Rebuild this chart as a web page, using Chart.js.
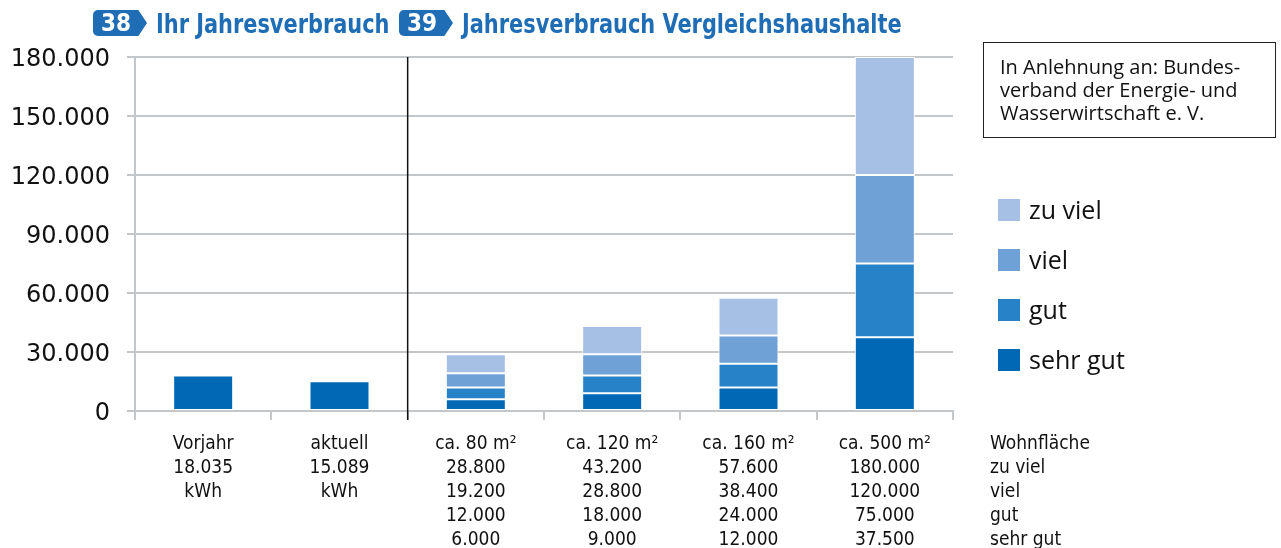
<!DOCTYPE html>
<html lang="de">
<head>
<meta charset="utf-8">
<title>Jahresverbrauch</title>
<script src="https://cdn.jsdelivr.net/npm/chart.js@4.4.1/dist/chart.umd.min.js"></script>
<style>
  html, body { margin: 0; padding: 0; background: #fff; }
  #wrap { position: relative; width: 1281px; height: 548px; overflow: hidden; }
  #chart { position: absolute; left: 0; top: 0; }
  .head { position: absolute; top: 6px; height: 34px; display: flex; align-items: center;
          font-family: "DejaVu Sans Condensed", "DejaVu Sans", sans-serif;
          font-weight: bold; font-size: 27px; color: #1f6db5; white-space: nowrap; }
  .head .txt { display: inline-block; transform: scaleX(0.86); transform-origin: left center; }
  .badge { display: inline-block; width: 54px; height: 26px; margin-right: 9px; background: #1f6db5;
           color: #fff; font-size: 24px; line-height: 27px; padding-left: 8px; box-sizing: border-box;
           border-radius: 5px 0 0 5px;
           clip-path: polygon(0 0, 84% 0, 100% 50%, 84% 100%, 0 100%); }
  #source { position: absolute; left: 983px; top: 42px; width: 293px; height: 96px; box-sizing: border-box;
            border: 1.5px solid #222; padding: 12px 0 0 16px;
            font-family: "Open Sans", sans-serif; font-size: 20px; line-height: 23px; color: #111;
            white-space: nowrap; }
  #legend { position: absolute; left: 998px; top: 196px; font-family: "Open Sans", sans-serif;
            font-size: 25px; color: #111; }
  #legend div { height: 50px; display: flex; align-items: flex-start; }
  #legend span.box { width: 22px; height: 22px; margin: 3px 9px 0 0; display: inline-block; }
  #legend span.txt { line-height: 26px; }
</style>
</head>
<body>
<div id="wrap">
  <canvas id="chart" width="1281" height="548"></canvas>
  <div class="head" style="left:93px"><span class="badge">38</span><span class="txt">Ihr Jahresverbrauch</span></div>
  <div class="head" style="left:399px"><span class="badge">39</span><span class="txt">Jahresverbrauch Vergleichshaushalte</span></div>
  <div id="source">In Anlehnung an: Bundes-<br>verband der Energie- und<br>Wasserwirtschaft e. V.</div>
  <div id="legend"></div>
</div>
<script>
// categories and the label lines printed under each bar
const categories = ['Vorjahr', 'aktuell', 'ca. 80 m²', 'ca. 120 m²', 'ca. 160 m²', 'ca. 500 m²'];
const ownUsage = [18035, 15089, null, null, null, null];

// upper limits per class (kWh) for the comparison households
const limitZuViel = [null, null, 28800, 43200, 57600, 180000];
const limitViel = [null, null, 19200, 28800, 38400, 120000];
const limitGut = [null, null, 12000, 18000, 24000, 75000];
const limitSehrGut = [null, null, 6000, 9000, 12000, 37500];

const rowNames = ['Wohnfläche', 'zu viel', 'viel', 'gut', 'sehr gut'];
const yTicks = [0, 30000, 60000, 90000, 120000, 150000, 180000];

const colors = {
  sehrGut: '#0068b4',
  gut: '#2882c8',
  viel: '#6fa0d6',
  zuViel: '#a6bfe4'
};

const fmt = v => v.toLocaleString('de-DE');

function labelLines(i) {
  if (ownUsage[i] != null) return [categories[i], fmt(ownUsage[i]), 'kWh'];
  return [categories[i], fmt(limitZuViel[i]), fmt(limitViel[i]), fmt(limitGut[i]), fmt(limitSehrGut[i])];
}

// floating segments between two limits
function span(lo, hi) {
  return hi.map((h, i) => h == null ? null : [lo ? lo[i] : 0, h]);
}

const legendItems = [
  ['zu viel', colors.zuViel],
  ['viel', colors.viel],
  ['gut', colors.gut],
  ['sehr gut', colors.sehrGut]
];
document.getElementById('legend').innerHTML = legendItems
  .map(([t, c]) => `<div><span class="box" style="background:${c}"></span><span class="txt">${t}</span></div>`)
  .join('');

const TICK_FONT = { family: '"DejaVu Sans Condensed", "DejaVu Sans", sans-serif', size: 19, lineHeight: 1.26 };
const X_TICK_LEN = 9;
const X_TICK_PAD = 12;

// black divider between own usage and comparison households, plus the row captions
const extras = {
  id: 'extras',
  afterDraw(chart) {
    const { ctx, chartArea, scales } = chart;
    const x = scales.x;
    const xs = (x.getPixelForValue(1) + x.getPixelForValue(2)) / 2;
    ctx.save();
    ctx.strokeStyle = '#111';
    ctx.lineWidth = 1.5;
    ctx.beginPath();
    ctx.moveTo(xs, chartArea.top);
    ctx.lineTo(xs, chartArea.bottom + X_TICK_LEN);
    ctx.stroke();

    ctx.fillStyle = '#111';
    ctx.font = `${TICK_FONT.size}px ${TICK_FONT.family}`;
    ctx.textAlign = 'left';
    ctx.textBaseline = 'middle';
    const lh = TICK_FONT.size * TICK_FONT.lineHeight;
    const y0 = chartArea.bottom + X_TICK_LEN + X_TICK_PAD + lh / 2;
    rowNames.forEach((t, i) => ctx.fillText(t, chartArea.right + 37, y0 + i * lh));
    ctx.restore();
  }
};

const seg = (label, data, color) => ({
  label, data, backgroundColor: color, borderColor: '#fff', borderWidth: 1,
  borderSkipped: false, barPercentage: 0.44, categoryPercentage: 1
});

new Chart(document.getElementById('chart'), {
  type: 'bar',
  data: {
    labels: categories.map((c, i) => labelLines(i)),
    datasets: [
      seg('Verbrauch', span(null, ownUsage), colors.sehrGut),
      seg('sehr gut', span(null, limitSehrGut), colors.sehrGut),
      seg('gut', span(limitSehrGut, limitGut), colors.gut),
      seg('viel', span(limitGut, limitViel), colors.viel),
      seg('zu viel', span(limitViel, limitZuViel), colors.zuViel)
    ]
  },
  options: {
    responsive: false,
    animation: false,
    layout: { padding: { top: 57, right: 328, left: 0, bottom: 0 } },
    plugins: { legend: { display: false }, tooltip: { enabled: false } },
    scales: {
      x: {
        stacked: true,
        grid: { offset: true, drawOnChartArea: false, color: '#c3c7ca', lineWidth: 2, tickLength: X_TICK_LEN },
        border: { color: '#c3c7ca', width: 2 },
        ticks: { color: '#111', font: TICK_FONT, padding: X_TICK_PAD, maxRotation: 0, autoSkip: false },
        afterFit(s) { s.height = 137; }
      },
      y: {
        stacked: false,
        min: 0,
        max: 180000,
        afterBuildTicks(s) { s.ticks = yTicks.map(v => ({ value: v })); },
        grid: { color: '#c3c7ca', lineWidth: 2, tickLength: 8 },
        border: { color: '#c3c7ca', width: 2 },
        ticks: { color: '#111', padding: 17, labelOffset: 3, font: { family: '"DejaVu Sans", sans-serif', size: 24 }, callback: v => fmt(v) },
        afterFit(s) { s.width = 135; }
      }
    }
  },
  plugins: [extras]
});
</script>
</body>
</html>
